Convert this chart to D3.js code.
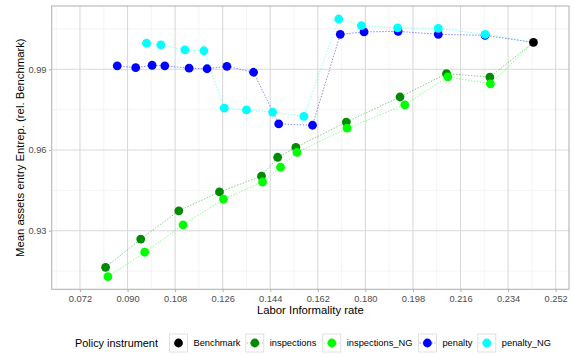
<!DOCTYPE html>
<html><head><meta charset="utf-8">
<script src="https://cdn.jsdelivr.net/npm/d3@7"></script>
<style>body{margin:0;background:#fff}svg{display:block;font-family:"Liberation Sans",Arial,sans-serif}</style>
</head><body><svg id="c" width="574" height="355"></svg>
<script>
const seriesNames = ["Benchmark","inspections","inspections_NG","penalty","penalty_NG"];
const seriesColors = ["#000000","#008B00","#00FF00","#0000FF","#00FFFF"];
const benchmarkX = [0.2436];
const benchmarkY = [1.0000];
const inspectionsX = [0.0817,0.0950,0.1094,0.1248,0.1407,0.1468,0.1537,0.1728,0.1931,0.2107,0.2271];
const inspectionsY = [0.9164,0.9269,0.9374,0.9444,0.9503,0.9573,0.9610,0.9704,0.9797,0.9884,0.9871];
const inspectionsNGX = [0.0826,0.0965,0.1110,0.1263,0.1411,0.1479,0.1541,0.1731,0.1949,0.2112,0.2273];
const inspectionsNGY = [0.9129,0.9220,0.9322,0.9417,0.9481,0.9536,0.9591,0.9681,0.9768,0.9872,0.9846];
const penaltyX = [0.0861,0.0931,0.0993,0.1041,0.1133,0.1201,0.1276,0.1377,0.1472,0.1600,0.1705,0.1795,0.1924,0.2076,0.2253];
const penaltyY = [0.9913,0.9906,0.9915,0.9913,0.9904,0.9902,0.9911,0.9889,0.9697,0.9692,1.0030,1.0039,1.0041,1.0030,1.0026];
const penaltyNGX = [0.0972,0.1026,0.1117,0.1189,0.1266,0.1350,0.1449,0.1567,0.1699,0.1785,0.1922,0.2076,0.2253];
const penaltyNGY = [0.9997,0.9991,0.9972,0.9969,0.9756,0.9749,0.9741,0.9725,1.0087,1.0062,1.0054,1.0052,1.0030];
const xTicks = [0.072,0.090,0.108,0.126,0.144,0.162,0.180,0.198,0.216,0.234,0.252];
const yTicks = [0.93,0.96,0.99];
const xMinor = [0.063,0.081,0.099,0.117,0.135,0.153,0.171,0.189,0.207,0.225,0.243];
const yMinor = [0.915,0.945,0.975,1.005];
const xTitle = "Labor Informality rate";
const yTitle = "Mean assets entry Entrep. (rel. Benchmark)";
const legendTitle = "Policy instrument";

const xs = [benchmarkX,inspectionsX,inspectionsNGX,penaltyX,penaltyNGX];
const ys = [benchmarkY,inspectionsY,inspectionsNGY,penaltyY,penaltyNGY];
const series = seriesNames.map((n,i)=>({name:n,color:seriesColors[i],pts:xs[i].map((x,j)=>({x,y:ys[i][j]}))}));

const svg = d3.select("#c");
const L=51.7,R=569,T=6,B=289.3;
const x = d3.scaleLinear().domain([0.06131,0.25705]).range([L,R]);
const y = d3.scaleLinear().domain([0.90822,1.01353]).range([B,T]);

const g = svg.append("g");
g.selectAll(".xm").data(xMinor).join("line").attr("x1",d=>x(d)).attr("x2",d=>x(d)).attr("y1",T).attr("y2",B).attr("stroke","#ebebeb").attr("stroke-width",0.55);
g.selectAll(".ym").data(yMinor).join("line").attr("y1",d=>y(d)).attr("y2",d=>y(d)).attr("x1",L).attr("x2",R).attr("stroke","#ebebeb").attr("stroke-width",0.55);
g.selectAll(".xM").data(xTicks).join("line").attr("x1",d=>x(d)).attr("x2",d=>x(d)).attr("y1",T).attr("y2",B).attr("stroke","#d9d9d9").attr("stroke-width",1.07);
g.selectAll(".yM").data(yTicks).join("line").attr("y1",d=>y(d)).attr("y2",d=>y(d)).attr("x1",L).attr("x2",R).attr("stroke","#d9d9d9").attr("stroke-width",1.07);
g.append("rect").attr("x",L).attr("y",T).attr("width",R-L).attr("height",B-T).attr("fill","none").attr("stroke","#b3b3b3").attr("stroke-width",1.07);

// axes
const xa = svg.append("g").attr("transform",`translate(0,${B})`).call(d3.axisBottom(x).tickValues(xTicks).tickFormat(d3.format(".3f")).tickSize(2.7).tickPadding(3));
const ya = svg.append("g").attr("transform",`translate(${L},0)`).call(d3.axisLeft(y).tickValues(yTicks).tickFormat(d3.format(".2f")).tickSize(2.7).tickPadding(2.5));
[xa,ya].forEach(a=>{a.select(".domain").remove();a.selectAll(".tick line").attr("stroke","#b3b3b3").attr("stroke-width",1.07);a.selectAll("text").attr("fill","#4d4d4d").attr("font-size","9.3px").attr("font-family","Liberation Sans, Arial, sans-serif");});

// lines (each series connects to benchmark)
const line = d3.line().x(d=>x(d.x)).y(d=>y(d.y));
const bm = series[0].pts[0];
series.slice(1).forEach(s=>{
  const pts = s.pts.concat([bm]).sort((a,b)=>a.x-b.x);
  svg.append("path").attr("d",line(pts)).attr("fill","none").attr("stroke",s.color).attr("stroke-opacity",0.5).attr("stroke-width",0.9).attr("stroke-dasharray","1.5,1.5");
});
series.forEach(s=>{
  svg.append("g").selectAll("circle").data(s.pts).join("circle").attr("cx",d=>x(d.x)).attr("cy",d=>y(d.y)).attr("r",4.4).attr("fill",s.color);
});

// titles
svg.append("text").attr("x",(L+R)/2).attr("y",313.5).attr("text-anchor","middle").attr("font-size","11.3px").attr("fill","#000").text(xTitle);
svg.append("text").attr("transform",`translate(24,${(T+B)/2}) rotate(-90)`).attr("text-anchor","middle").attr("font-size","11.3px").attr("fill","#000").text(yTitle);

// legend
const leg = svg.append("g");
leg.append("text").attr("x",75).attr("y",346.5).attr("font-size","10.9px").attr("fill","#000").text(legendTitle);
const keyX = [169.5,245.8,322.8,418.4,477.8];
series.forEach((s,i)=>{
  const kx = keyX[i], ky=334;
  leg.append("rect").attr("x",kx).attr("y",ky).attr("width",18).attr("height",18).attr("fill","#fff").attr("stroke","#d9d9d9").attr("stroke-width",0.8);
  if(i>0) leg.append("line").attr("x1",kx+1).attr("x2",kx+17).attr("y1",ky+9).attr("y2",ky+9).attr("stroke",s.color).attr("stroke-opacity",0.5).attr("stroke-width",0.9).attr("stroke-dasharray","1.5,1.5");
  leg.append("circle").attr("cx",kx+9).attr("cy",ky+9).attr("r",4.4).attr("fill",s.color);
  leg.append("text").attr("x",kx+24).attr("y",ky+12.3).attr("font-size","9.3px").attr("fill","#000").text(s.name);
});
</script></body></html>
